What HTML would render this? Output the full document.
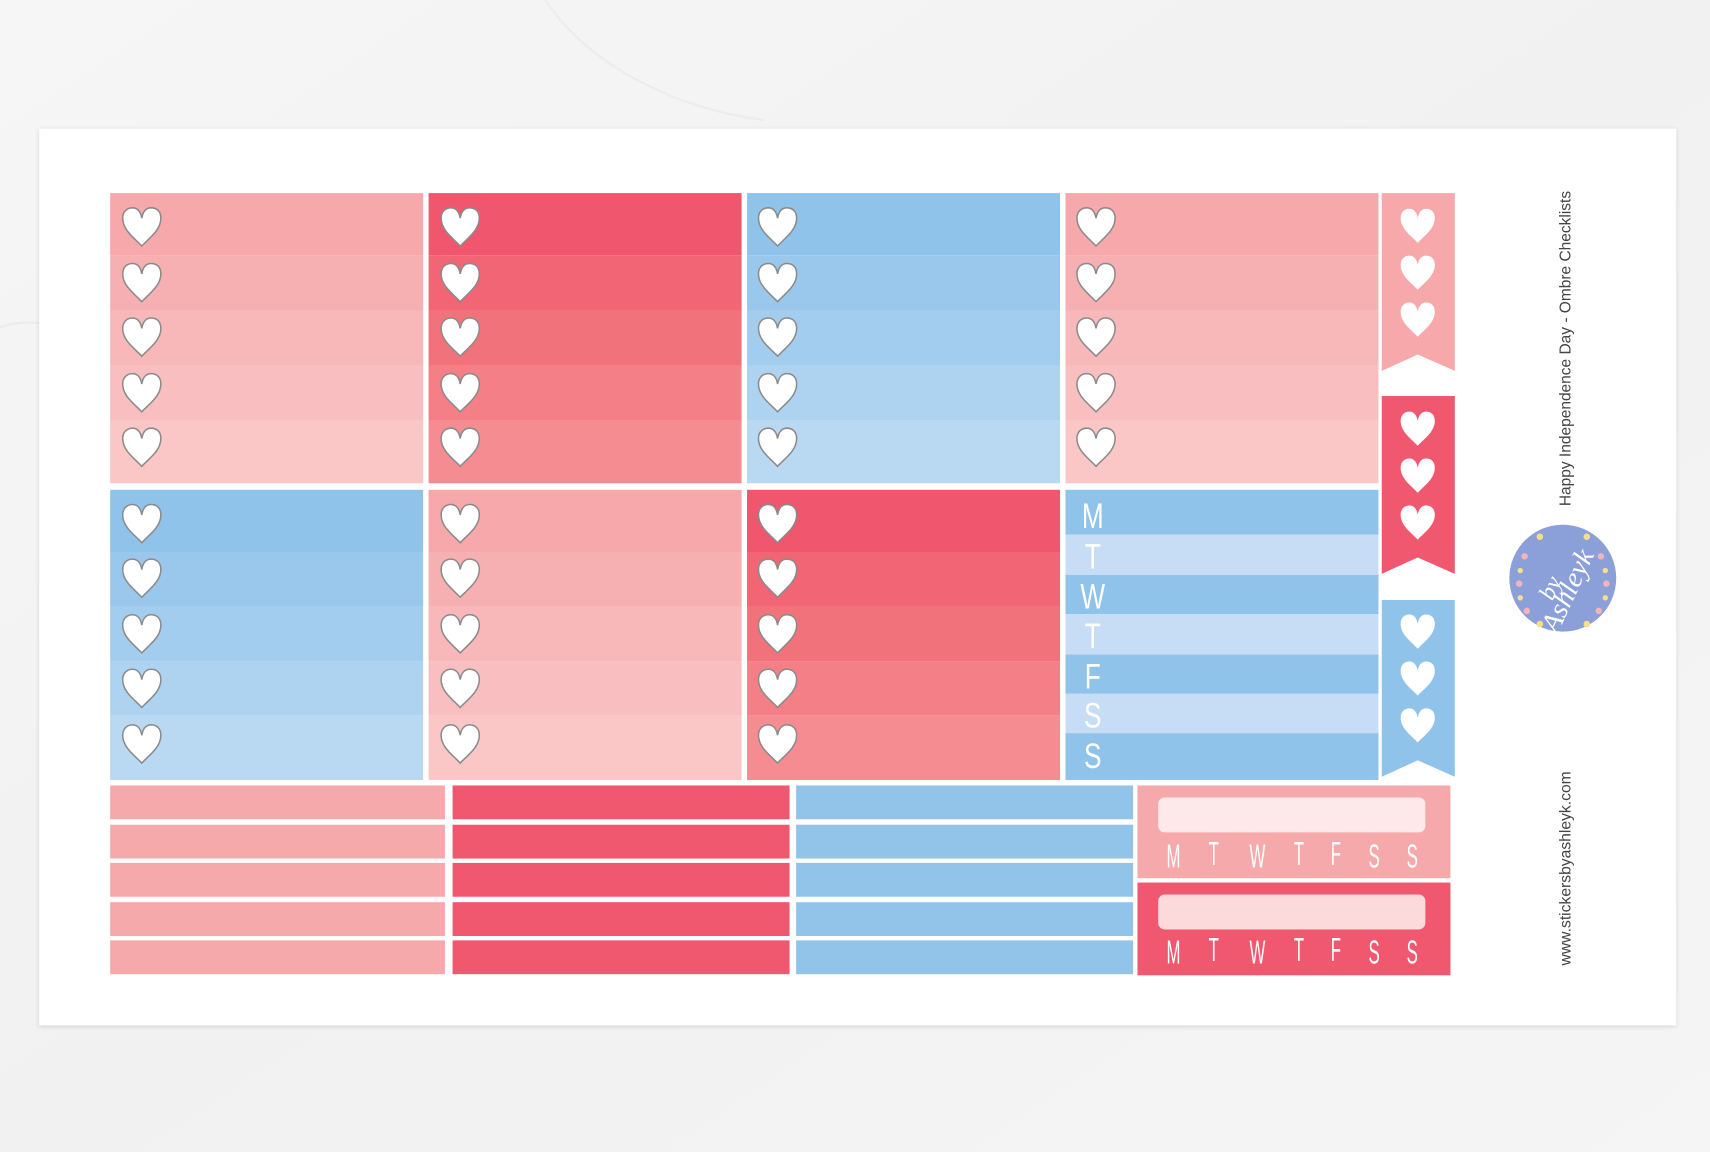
<!DOCTYPE html>
<html><head><meta charset="utf-8"><style>
html,body{margin:0;padding:0;background:#f4f4f4;}
svg{display:block;}
</style></head><body>
<svg width="1710" height="1152" viewBox="0 0 1568 1056" preserveAspectRatio="none" xmlns="http://www.w3.org/2000/svg">
<defs>
<linearGradient id="bg" x1="0" y1="0" x2="1" y2="1">
<stop offset="0" stop-color="#f6f6f6"/><stop offset="0.5" stop-color="#f1f1f1"/><stop offset="1" stop-color="#f5f5f5"/>
</linearGradient>
<filter id="sh" x="-5%" y="-5%" width="110%" height="110%"><feDropShadow dx="0" dy="1" stdDeviation="2" flood-color="#000" flood-opacity="0.15"/></filter>
<symbol id="h" viewBox="0 0 38 38"><path d="M19 36.5 C12 29 1.5 22 1.5 11 C1.5 4.5 6 1.5 10.5 1.5 C15 1.5 18 5 19 11 C20 5 23 1.5 27.5 1.5 C32.5 1.5 36.5 4.5 36.5 11 C36.5 22 26 29 19 36.5Z" fill="#fff" stroke="#8a8a8a" stroke-width="1.4"/></symbol>
<symbol id="hf" viewBox="0 0 38 38"><path d="M19 36.5 C12 29 1.5 22 1.5 11 C1.5 4.5 6 1.5 10.5 1.5 C15 1.5 18 5 19 11 C20 5 23 1.5 27.5 1.5 C32.5 1.5 36.5 4.5 36.5 11 C36.5 22 26 29 19 36.5Z" fill="#fff"/></symbol>
</defs>
<rect width="1568" height="1056" fill="url(#bg)"/>
<path d="M0 300 C60 280 120 330 160 420 M500 0 C540 60 620 100 700 110" stroke="#e6e6e6" stroke-width="2" fill="none" opacity="0.6"/>
<rect x="36" y="118" width="1501" height="822" fill="#fff" filter="url(#sh)"/>

<g>
<rect x="101" y="177" width="287" height="57" fill="#f6a8aa"/><rect x="101" y="234" width="287" height="51" fill="#f7b0b2"/><rect x="101" y="285" width="287" height="50" fill="#f8b7b8"/><rect x="101" y="335" width="287" height="50" fill="#f9bebf"/><rect x="101" y="385" width="287" height="58" fill="#fac6c6"/>
<rect x="393" y="177" width="287" height="57" fill="#f0566e"/><rect x="393" y="234" width="287" height="51" fill="#f16575"/><rect x="393" y="285" width="287" height="50" fill="#f2727c"/><rect x="393" y="335" width="287" height="50" fill="#f47f87"/><rect x="393" y="385" width="287" height="58" fill="#f58c91"/>
<rect x="685" y="177" width="287" height="57" fill="#90c3ea"/><rect x="685" y="234" width="287" height="51" fill="#99c8ec"/><rect x="685" y="285" width="287" height="50" fill="#a3cdee"/><rect x="685" y="335" width="287" height="50" fill="#aed3f0"/><rect x="685" y="385" width="287" height="58" fill="#b9d8f2"/>
<rect x="977" y="177" width="287" height="57" fill="#f6a8aa"/><rect x="977" y="234" width="287" height="51" fill="#f7b0b2"/><rect x="977" y="285" width="287" height="50" fill="#f8b7b8"/><rect x="977" y="335" width="287" height="50" fill="#f9bebf"/><rect x="977" y="385" width="287" height="58" fill="#fac6c6"/>
</g>
<g>
<rect x="101" y="449" width="287" height="57" fill="#90c3ea"/><rect x="101" y="506" width="287" height="50" fill="#99c8ec"/><rect x="101" y="556" width="287" height="50" fill="#a3cdee"/><rect x="101" y="606" width="287" height="50" fill="#aed3f0"/><rect x="101" y="656" width="287" height="59" fill="#b9d8f2"/>
<rect x="393" y="449" width="287" height="57" fill="#f6a8aa"/><rect x="393" y="506" width="287" height="50" fill="#f7b0b2"/><rect x="393" y="556" width="287" height="50" fill="#f8b7b8"/><rect x="393" y="606" width="287" height="50" fill="#f9bebf"/><rect x="393" y="656" width="287" height="59" fill="#fac6c6"/>
<rect x="685" y="449" width="287" height="57" fill="#f0566e"/><rect x="685" y="506" width="287" height="50" fill="#f16575"/><rect x="685" y="556" width="287" height="50" fill="#f2727c"/><rect x="685" y="606" width="287" height="50" fill="#f47f87"/><rect x="685" y="656" width="287" height="59" fill="#f58c91"/>
<rect x="977" y="449" width="287" height="41" fill="#90c3ea"/><rect x="977" y="490" width="287" height="37" fill="#c6ddf5"/><rect x="977" y="527" width="287" height="36" fill="#90c3ea"/><rect x="977" y="563" width="287" height="37" fill="#c6ddf5"/><rect x="977" y="600" width="287" height="36" fill="#90c3ea"/><rect x="977" y="636" width="287" height="36" fill="#c6ddf5"/><rect x="977" y="672" width="287" height="43" fill="#90c3ea"/>
<g font-family="Liberation Sans, sans-serif" font-size="32" fill="#fff" text-anchor="middle">
<text transform="translate(1002,484) scale(0.75,1)">M</text><text transform="translate(1002,521) scale(0.75,1)">T</text><text transform="translate(1002,558) scale(0.75,1)">W</text><text transform="translate(1002,594) scale(0.75,1)">T</text><text transform="translate(1002,631) scale(0.75,1)">F</text><text transform="translate(1002,667) scale(0.75,1)">S</text><text transform="translate(1002,704) scale(0.75,1)">S</text>
</g>
</g>
<g>
<use href="#h" x="111" y="189" width="38" height="38"/><use href="#h" x="111" y="240" width="38" height="38"/><use href="#h" x="111" y="290" width="38" height="38"/><use href="#h" x="111" y="341" width="38" height="38"/><use href="#h" x="111" y="391" width="38" height="38"/>
<use href="#h" x="403" y="189" width="38" height="38"/><use href="#h" x="403" y="240" width="38" height="38"/><use href="#h" x="403" y="290" width="38" height="38"/><use href="#h" x="403" y="341" width="38" height="38"/><use href="#h" x="403" y="391" width="38" height="38"/>
<use href="#h" x="694" y="189" width="38" height="38"/><use href="#h" x="694" y="240" width="38" height="38"/><use href="#h" x="694" y="290" width="38" height="38"/><use href="#h" x="694" y="341" width="38" height="38"/><use href="#h" x="694" y="391" width="38" height="38"/>
<use href="#h" x="986" y="189" width="38" height="38"/><use href="#h" x="986" y="240" width="38" height="38"/><use href="#h" x="986" y="290" width="38" height="38"/><use href="#h" x="986" y="341" width="38" height="38"/><use href="#h" x="986" y="391" width="38" height="38"/>
<use href="#h" x="111" y="461" width="38" height="38"/><use href="#h" x="111" y="511" width="38" height="38"/><use href="#h" x="111" y="562" width="38" height="38"/><use href="#h" x="111" y="612" width="38" height="38"/><use href="#h" x="111" y="663" width="38" height="38"/>
<use href="#h" x="403" y="461" width="38" height="38"/><use href="#h" x="403" y="511" width="38" height="38"/><use href="#h" x="403" y="562" width="38" height="38"/><use href="#h" x="403" y="612" width="38" height="38"/><use href="#h" x="403" y="663" width="38" height="38"/>
<use href="#h" x="694" y="461" width="38" height="38"/><use href="#h" x="694" y="511" width="38" height="38"/><use href="#h" x="694" y="562" width="38" height="38"/><use href="#h" x="694" y="612" width="38" height="38"/><use href="#h" x="694" y="663" width="38" height="38"/>
</g>
<polygon points="1267,177 1334,177 1334,340 1300,325 1267,340" fill="#f6a8aa"/>
<polygon points="1267,363 1334,363 1334,526 1300,511 1267,526" fill="#f05870"/>
<polygon points="1267,550 1334,550 1334,712 1300,697 1267,712" fill="#90c3ea"/>
<g>
<use href="#hf" x="1283" y="190" width="34" height="34"/><use href="#hf" x="1283" y="233" width="34" height="34"/><use href="#hf" x="1283" y="276" width="34" height="34"/>
<use href="#hf" x="1283" y="376" width="34" height="34"/><use href="#hf" x="1283" y="419" width="34" height="34"/><use href="#hf" x="1283" y="462" width="34" height="34"/>
<use href="#hf" x="1283" y="562" width="34" height="34"/><use href="#hf" x="1283" y="605" width="34" height="34"/><use href="#hf" x="1283" y="648" width="34" height="34"/>
</g>
<g>
<rect x="101" y="720" width="307" height="31" fill="#f6a9ab"/><rect x="101" y="756" width="307" height="31" fill="#f6a9ab"/><rect x="101" y="791" width="307" height="31" fill="#f6a9ab"/><rect x="101" y="827" width="307" height="31" fill="#f6a9ab"/><rect x="101" y="862" width="307" height="31" fill="#f6a9ab"/>
<rect x="415" y="720" width="309" height="31" fill="#f05870"/><rect x="415" y="756" width="309" height="31" fill="#f05870"/><rect x="415" y="791" width="309" height="31" fill="#f05870"/><rect x="415" y="827" width="309" height="31" fill="#f05870"/><rect x="415" y="862" width="309" height="31" fill="#f05870"/>
<rect x="730" y="720" width="309" height="31" fill="#92c4ea"/><rect x="730" y="756" width="309" height="31" fill="#92c4ea"/><rect x="730" y="791" width="309" height="31" fill="#92c4ea"/><rect x="730" y="827" width="309" height="31" fill="#92c4ea"/><rect x="730" y="862" width="309" height="31" fill="#92c4ea"/>
</g>
<rect x="1043" y="720" width="287" height="85" fill="#f6a9ab"/>
<rect x="1062" y="731" width="245" height="32" rx="6" fill="#fde9e9"/>
<rect x="1043" y="809" width="287" height="85" fill="#f05870"/>
<rect x="1062" y="820" width="245" height="32" rx="6" fill="#fcdadb"/>
<g font-family="Liberation Sans, sans-serif" font-size="28" fill="#fff" text-anchor="middle">
<text transform="translate(1076,795) scale(0.55,1.1)">M</text><text transform="translate(1113,793) scale(0.55,1.1)">T</text><text transform="translate(1153,795) scale(0.55,1.1)">W</text><text transform="translate(1191,793) scale(0.55,1.1)">T</text><text transform="translate(1225,793) scale(0.55,1.1)">F</text><text transform="translate(1260,795) scale(0.55,1.1)">S</text><text transform="translate(1295,795) scale(0.55,1.1)">S</text>
<text transform="translate(1076,883) scale(0.55,1.1)">M</text><text transform="translate(1113,881) scale(0.55,1.1)">T</text><text transform="translate(1153,883) scale(0.55,1.1)">W</text><text transform="translate(1191,881) scale(0.55,1.1)">T</text><text transform="translate(1225,881) scale(0.55,1.1)">F</text><text transform="translate(1260,883) scale(0.55,1.1)">S</text><text transform="translate(1295,883) scale(0.55,1.1)">S</text>
</g>
<text transform="translate(1440,464) rotate(-90)" font-family="Liberation Sans, sans-serif" font-size="14" fill="#444" textLength="289" lengthAdjust="spacingAndGlyphs">Happy Independence Day - Ombre Checklists</text>
<text transform="translate(1440,885) rotate(-90)" font-family="Liberation Sans, sans-serif" font-size="14" fill="#444" textLength="178" lengthAdjust="spacingAndGlyphs">www.stickersbyashleyk.com</text>
<circle cx="1433" cy="530" r="49" fill="#8b9fd8"/>
<g fill="#f4b3b5"><circle cx="1398" cy="510" r="3"/><circle cx="1468" cy="510" r="3"/><circle cx="1393" cy="535" r="3"/><circle cx="1473" cy="535" r="3"/><circle cx="1400" cy="560" r="3"/><circle cx="1466" cy="560" r="3"/></g>
<g fill="#f7df8a"><circle cx="1412" cy="492" r="3"/><circle cx="1455" cy="492" r="3"/><circle cx="1394" cy="523" r="2.5"/><circle cx="1472" cy="523" r="2.5"/><circle cx="1394" cy="548" r="2.5"/><circle cx="1472" cy="548" r="2.5"/><circle cx="1412" cy="572" r="3"/><circle cx="1455" cy="572" r="3"/></g>
<text transform="translate(1428,542) rotate(-65)" font-family="Liberation Serif, serif" font-style="italic" font-size="22" fill="#fff" text-anchor="middle">by</text>
<text transform="translate(1445,545) rotate(-65)" font-family="Liberation Serif, serif" font-style="italic" font-size="26" fill="#fff" text-anchor="middle">Ashleyk</text>
</svg>
</body></html>
